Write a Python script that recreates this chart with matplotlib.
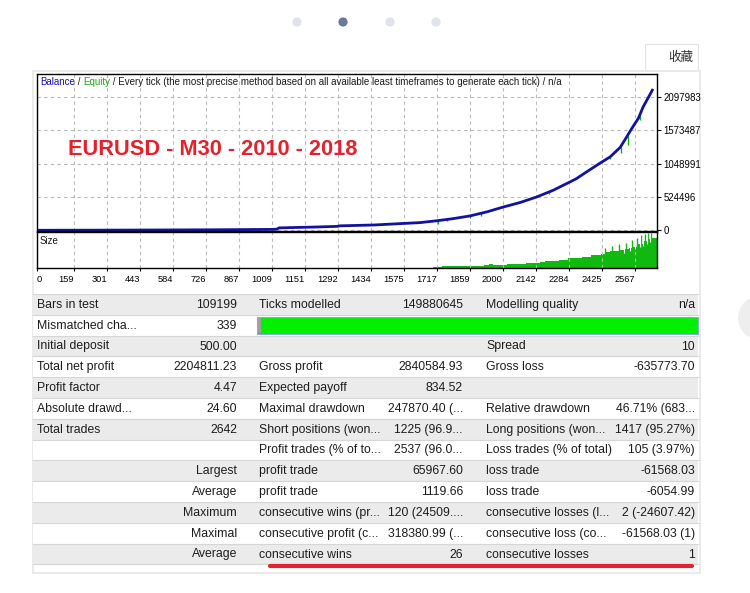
import matplotlib.pyplot as plt
from matplotlib.patches import Rectangle, Circle

plt.rcParams['font.family'] = ['Liberation Sans', 'DejaVu Sans']
chart_font = ['Liberation Sans', 'DejaVu Sans']

# balance curve (trade number, balance)
balance_trades = [0, 250, 500, 750, 1000, 1030, 1040, 1200, 1290, 1300, 1450, 1559, 1645,
                  1717, 1788, 1859, 1931, 2003, 2074, 2146, 2217, 2289, 2317, 2360,
                  2418, 2461, 2504, 2532, 2554, 2582, 2603, 2642]
balance_values = [500, 2000, 4500, 8000, 14000, 17000, 38000, 52000, 62000, 70000, 84000, 105000, 121000,
                  150000, 184000, 226000, 289000, 367000, 437000, 525000, 631000, 762000, 815000, 920000,
                  1058000, 1156000, 1305000, 1470000, 1604000, 1762000, 1945000, 2205300]

# equity drops below balance
dip_trades = [1724, 1760, 1860, 1905, 2200, 2462, 2508, 2538, 2590]
dip_top = [150000, 170000, 226000, 265000, 600000, 1160000, 1310000, 1490000, 1820000]
dip_low = [104000, 140000, 190000, 225000, 575000, 1120000, 1214000, 1339000, 1730000]

# lot size panel
size_trades = list(range(1700, 2641, 20))
size_values = [1.9, 1.9, 2.0, 2.0, 2.0, 2.1, 2.1, 2.2, 2.4, 2.5, 2.6, 3.4, 4.5, 3.5, 3.6, 3.7,
               4.0, 4.3, 4.5, 4.8, 5.2, 5.6, 5.8, 6.2, 7.0, 7.5, 7.8, 8.0, 8.5, 10.0, 10.2, 10.5,
               11.0, 11.5, 13.0, 13.2, 14.0, 16.5, 17.0, 17.5, 18.0, 19.5, 20.0, 21.0, 24.0, 27.0,
               29.0, 30.0]
spike_trades = [2440, 2470, 2500, 2530, 2555, 2575, 2595, 2610, 2625, 2636]
spike_values = [20, 22, 24, 25, 28, 30, 33, 34, 35, 35]
gap_trades = [2520, 2548, 2566, 2588, 2603, 2617, 2630]
gap_values = [15, 17, 19, 21, 22, 24, 26]

x_ticks = [0, 159, 301, 443, 584, 726, 867, 1009, 1151, 1292, 1434, 1575, 1717, 1859,
           2000, 2142, 2284, 2425, 2567]
y_ticks = [0, 524496, 1048991, 1573487, 2097983]

# report table
names_1 = ['Bars in test', 'Mismatched cha...', 'Initial deposit', 'Total net profit', 'Profit factor',
           'Absolute drawd...', 'Total trades', '', 'Largest', 'Average', 'Maximum', 'Maximal', 'Average']
values_1 = ['109199', '339', '500.00', '2204811.23', '4.47', '24.60', '2642', '', '', '', '', '', '']
names_2 = ['Ticks modelled', '', '', 'Gross profit', 'Expected payoff', 'Maximal drawdown',
           'Short positions (won...', 'Profit trades (% of to...', 'profit trade', 'profit trade',
           'consecutive wins (pr...', 'consecutive profit (c...', 'consecutive wins']
values_2 = ['149880645', '', '', '2840584.93', '834.52', '247870.40 (...', '1225 (96.9...',
            '2537 (96.0...', '65967.60', '1119.66', '120 (24509....', '318380.99 (...', '26']
names_3 = ['Modelling quality', '', 'Spread', 'Gross loss', '', 'Relative drawdown',
           'Long positions (won...', 'Loss trades (% of total)', 'loss trade', 'loss trade',
           'consecutive losses (l...', 'consecutive loss (co...', 'consecutive losses']
values_3 = ['n/a', '', '10', '-635773.70', '', '46.71% (683...', '1417 (95.27%)', '105 (3.97%)',
            '-61568.03', '-6054.99', '2 (-24607.42)', '-61568.03 (1)', '1']

W, H = 750, 593


def rect(x, y, w, h):
    return [x / W, 1 - (y + h) / H, w / W, h / H]


fig = plt.figure(figsize=(W / 100, H / 100), dpi=100)
bg = fig.add_axes([0, 0, 1, 1], zorder=0)
bg.set_xlim(0, W)
bg.set_ylim(H, 0)
bg.axis('off')

# page bits: slider dots, button, card
for i, x in enumerate([297, 343, 390, 436]):
    bg.add_patch(Circle((x, 22), 4.6, color='#687a9c' if i == 1 else '#dfe3eb', lw=0))
bg.add_patch(Circle((760, 318), 22, color='#eeeeee', lw=0))
bg.add_patch(Rectangle((645, 43.5), 53, 27, facecolor='white', edgecolor='#e2e2e2', lw=0.8))
bg.text(681, 57, '收藏', fontsize=9, color='#333333', ha='center', va='center',
        family=['Noto Sans CJK SC', 'DejaVu Sans'])
bg.add_patch(Rectangle((33, 71), 667, 502, facecolor='white', edgecolor='#e6e6e6', lw=1.2))

# table
row_top, row_h = 294, 20.8
for i in range(13):
    y0 = row_top + i * row_h
    bg.add_patch(Rectangle((33, y0), 665, row_h, facecolor='#ebebeb' if i % 2 == 0 else 'white', lw=0))
    bg.plot([33, 698], [y0, y0], color='#d6d6d6', lw=0.8)
    yc = y0 + row_h / 2 + 0.5
    tk = dict(fontsize=8.8, color='#1c1c1c', va='center')
    if i >= 8:
        bg.text(237, yc, names_1[i], ha='right', **tk)
    else:
        bg.text(37, yc, names_1[i], ha='left', **tk)
    bg.text(237, yc, values_1[i], ha='right', **tk)
    bg.text(259, yc, names_2[i], ha='left', **tk)
    bg.text(463, yc, values_2[i], ha='right', **tk)
    bg.text(486, yc, names_3[i], ha='left', **tk)
    bg.text(695, yc, values_3[i], ha='right', **tk)
bg.plot([33, 698], [row_top + 13 * row_h, row_top + 13 * row_h], color='#d6d6d6', lw=0.8)

# modelling quality bar
bg.add_patch(Rectangle((257, 317), 440.5, 16.5, facecolor='#00f000', edgecolor='#8caad6', lw=0.8))
bg.add_patch(Rectangle((257.6, 317.6), 3.2, 15.3, facecolor='#a0a0a0', lw=0))

# red underline
bg.plot([270, 692], [566, 566], color='#e8202c', lw=3, solid_capstyle='round')

# balance chart
ax = fig.add_axes(rect(36.7, 74, 620.3, 157), zorder=2)
ax.vlines(dip_trades, dip_low, dip_top, color='#00b800', lw=1)
ax.plot(balance_trades, balance_values, color='#12129e', lw=2)
ax.set_xlim(0, 2662)
ax.set_ylim(-11000, 2460000)
ax.set_xticks(x_ticks)
ax.set_xticklabels([])
ax.tick_params(axis='x', length=0)
ax.yaxis.tick_right()
ax.set_yticks(y_ticks)
ax.set_yticklabels([str(v) for v in y_ticks], family=chart_font, fontsize=6.9)
ax.tick_params(axis='y', length=3, width=0.8, pad=1.5, colors='black')
ax.grid(True, ls=(0, (3, 3)), color='#b8b8b8', lw=0.8)
for s in ax.spines.values():
    s.set_color('black')
    s.set_linewidth(1)

t = ax.text(0.005, 0.915, 'Balance', transform=ax.transAxes, color='#1010c0', va='bottom',
            family=chart_font, fontsize=7)
for part, col in [(' / ', '#1a1a1a'), ('Equity', '#10b010'),
                  (' / Every tick (the most precise method based on all available least timeframes '
                   'to generate each tick) / n/a', '#1a1a1a')]:
    t = ax.annotate(part, xy=(1, 0), xycoords=t, va='bottom', ha='left', color=col,
                    family=chart_font, fontsize=7)

ax.text(0.0505, 0.522, 'EURUSD - M30 - 2010 - 2018', transform=ax.transAxes, color='#e8202a',
        fontsize=15.7, fontweight='bold', va='center', ha='left')

# lot size panel
ax2 = fig.add_axes(rect(36.7, 232.3, 620.3, 36.2), zorder=2)
ax2.bar(size_trades, size_values, width=20, color='#10b810', lw=0, align='edge')
ax2.vlines(spike_trades, 0, spike_values, color='#10b810', lw=1)
ax2.vlines(gap_trades, gap_values, 36, color='white', lw=0.8)
ax2.set_xlim(0, 2662)
ax2.set_ylim(0, 36)
ax2.set_yticks([])
ax2.set_xticks(x_ticks)
ax2.set_xticklabels([str(v) for v in x_ticks], family=chart_font, fontsize=6.7, ha='right')
ax2.get_xticklabels()[0].set_ha('left')
ax2.tick_params(axis='x', length=2, width=0.8, pad=2.5)
ax2.grid(True, axis='x', ls=(0, (3, 3)), color='#b8b8b8', lw=0.8)
for s in ax2.spines.values():
    s.set_color('black')
    s.set_linewidth(1)
ax2.text(0.005, 0.75, 'Size', transform=ax2.transAxes, va='center', family=chart_font,
         fontsize=7, color='#1a1a1a')

fig.savefig('out.png', dpi=100)
